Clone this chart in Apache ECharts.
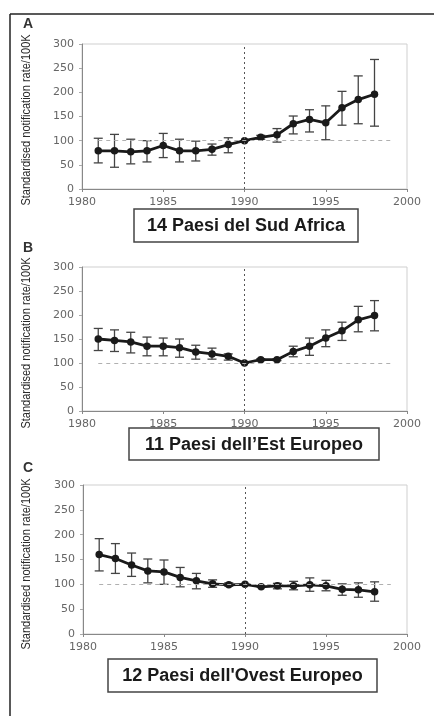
<!DOCTYPE html>
<html>
<head>
<meta charset="utf-8">
<script src="https://cdn.jsdelivr.net/npm/echarts@6/dist/echarts.min.js"></script>
<style>
  html, body { margin: 0; padding: 0; background: #fff; }
  #main { width: 434px; height: 716px; }
</style>
</head>
<body>
<div id="main"></div>
<script>
  // anni
  var years = [1981, 1982, 1983, 1984, 1985, 1986, 1987, 1988, 1989, 1990, 1991, 1992, 1993, 1994, 1995, 1996, 1997, 1998];

  // A - Sud Africa
  var rateA = [79, 79, 77, 79, 90, 79, 79, 82, 92, 100, 107, 112, 135, 144, 137, 168, 185, 196];
  var lowA  = [54, 45, 52, 56, 65, 56, 58, 70, 75, 100, 103, 97, 114, 118, 102, 132, 135, 130];
  var highA = [105, 113, 103, 100, 115, 103, 99, 93, 106, 100, 111, 125, 151, 164, 172, 202, 234, 268];

  // B - Est Europeo
  var rateB = [150, 147, 144, 135, 135, 132, 123, 119, 114, 100, 107, 107, 124, 135, 152, 167, 190, 199];
  var lowB  = [126, 124, 121, 115, 115, 112, 108, 108, 106, 100, 105, 105, 113, 116, 134, 147, 165, 167];
  var highB = [172, 169, 164, 154, 152, 150, 137, 131, 119, 100, 109, 109, 135, 152, 169, 185, 218, 230];

  // C - Ovest Europeo
  var rateC = [160, 152, 139, 127, 125, 114, 107, 101, 99, 100, 95, 97, 97, 99, 97, 90, 89, 85];
  var lowC  = [127, 122, 116, 103, 100, 95, 91, 94, 96, 100, 94, 91, 89, 86, 87, 78, 74, 66];
  var highC = [192, 182, 163, 151, 149, 134, 122, 109, 103, 100, 96, 102, 106, 113, 108, 101, 103, 105];

  var panelLetters = ['A', 'B', 'C'];
  var panelTitles = ['14 Paesi del Sud Africa', '11 Paesi dell\u2019Est Europeo', "12 Paesi dell'Ovest Europeo"];
  var yTitle = 'Standardised notification rate/100K';

  var grids = [
    { left: 82, top: 44, width: 325, height: 145 },
    { left: 82, top: 267, width: 325, height: 144 },
    { left: 83, top: 485, width: 324, height: 149 }
  ];
  var boxes = [
    { x: 134, y: 209, w: 224, h: 33 },
    { x: 129, y: 428, w: 250, h: 32 },
    { x: 108, y: 659, w: 269, h: 33 }
  ];
  var letterY = [24, 248, 468];
  var yTitleY = [120, 343, 564];

  var rates = [rateA, rateB, rateC];
  var lows = [lowA, lowB, lowC];
  var highs = [highA, highB, highC];

  function renderErr(params, api) {
    var x = api.value(0);
    var lo = api.coord([x, api.value(1)]);
    var hi = api.coord([x, api.value(2)]);
    var w = 4.5;
    var st = { stroke: '#444', lineWidth: 1.3 };
    return {
      type: 'group',
      children: [
        { type: 'line', shape: { x1: hi[0], y1: hi[1], x2: lo[0], y2: lo[1] }, style: st },
        { type: 'line', shape: { x1: hi[0] - w, y1: hi[1], x2: hi[0] + w, y2: hi[1] }, style: st },
        { type: 'line', shape: { x1: lo[0] - w, y1: lo[1], x2: lo[0] + w, y2: lo[1] }, style: st }
      ]
    };
  }

  var axisFont = { fontFamily: 'DejaVu Sans', fontSize: 11, color: '#666' };
  var xAxes = [], yAxes = [], series = [], graphic = [];

  for (var i = 0; i < 3; i++) {
    grids[i].show = true;
    grids[i].borderColor = '#cfcfcf';
    grids[i].borderWidth = 1;
    grids[i].containLabel = false;

    xAxes.push({
      type: 'value', gridIndex: i, min: 1980, max: 2000, interval: 5,
      axisLine: { lineStyle: { color: '#888', width: 1 } },
      axisTick: { show: true, length: 3, lineStyle: { color: '#888' } },
      axisLabel: Object.assign({ margin: 8, formatter: function (v) { return String(v); } }, axisFont),
      splitLine: { show: false }
    });
    yAxes.push({
      type: 'value', gridIndex: i, min: 0, max: 300, interval: 50,
      axisLine: { show: true, lineStyle: { color: '#888', width: 1 } },
      axisTick: { show: true, length: 3, lineStyle: { color: '#aaa' } },
      axisLabel: Object.assign({ margin: 8 }, axisFont),
      splitLine: { show: false }
    });

    var lineData = [], errData = [];
    for (var k = 0; k < years.length; k++) {
      lineData.push([years[k], rates[i][k]]);
      errData.push([years[k], lows[i][k], highs[i][k]]);
    }

    series.push({
      type: 'custom', xAxisIndex: i, yAxisIndex: i,
      renderItem: renderErr, data: errData,
      encode: { x: 0, y: [1, 2] }, silent: true, z: 3
    });
    series.push({
      type: 'line', xAxisIndex: i, yAxisIndex: i, data: lineData,
      symbol: 'circle', symbolSize: 7.5,
      itemStyle: { color: '#1a1a1a' },
      lineStyle: { color: '#1a1a1a', width: 2.8 },
      z: 4,
      markLine: {
        silent: true, symbol: 'none', label: { show: false },
        data: [
          { xAxis: 1990, lineStyle: { color: '#555', width: 1, type: [2, 3] } },
          [
            { coord: [1981, 100], lineStyle: { color: '#b0b0b0', width: 1, type: [4, 4] } },
            { coord: [1999, 100] }
          ]
        ]
      }
    });

    graphic.push({
      type: 'text', x: 28, y: letterY[i],
      style: {
        text: panelLetters[i], font: 'bold 14px "Liberation Sans", Arial', fill: '#333',
        align: 'center', verticalAlign: 'middle'
      }
    });
    graphic.push({
      type: 'text', x: 27, y: yTitleY[i], rotation: Math.PI / 2, scaleX: 0.88,
      style: {
        text: yTitle, font: '12.5px "Liberation Sans", Arial', fill: '#2a2a2a',
        align: 'center', verticalAlign: 'middle'
      }
    });
    graphic.push({
      type: 'rect', shape: { x: boxes[i].x, y: boxes[i].y, width: boxes[i].w, height: boxes[i].h },
      style: { fill: '#fff', stroke: '#444', lineWidth: 1.5 }
    });
    graphic.push({
      type: 'text', x: boxes[i].x + boxes[i].w / 2, y: boxes[i].y + boxes[i].h / 2 + 1,
      style: {
        text: panelTitles[i], font: 'bold 18px "Liberation Sans", Arial', fill: '#1a1a1a',
        align: 'center', verticalAlign: 'middle'
      }
    });
  }

  // cornice esterna
  graphic.push({ type: 'line', shape: { x1: 10, y1: 14, x2: 434, y2: 14 }, style: { stroke: '#222', lineWidth: 1.5 } });
  graphic.push({ type: 'line', shape: { x1: 10, y1: 14, x2: 10, y2: 716 }, style: { stroke: '#222', lineWidth: 1.5 } });

  var chart = echarts.init(document.getElementById('main'));
  chart.setOption({
    animation: false,
    backgroundColor: '#fff',
    grid: grids,
    xAxis: xAxes,
    yAxis: yAxes,
    series: series,
    graphic: graphic
  });
</script>
</body>
</html>
